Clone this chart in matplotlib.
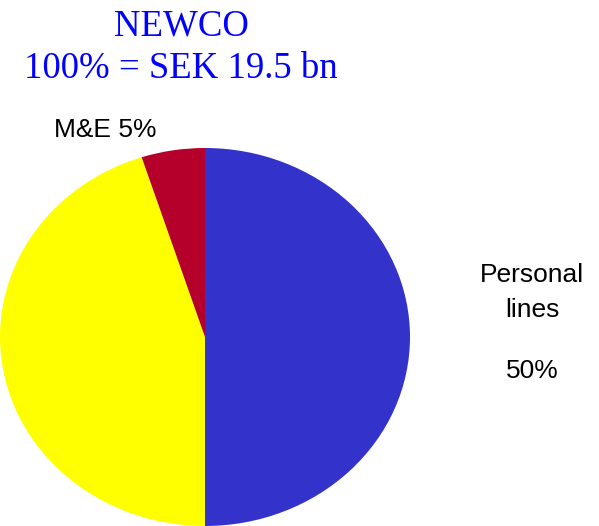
import matplotlib.pyplot as plt

segments = ['Personal lines', 'Commercial', 'M&E']
shares = [50, 45, 5]
colors = ['#3333CC', '#FFFF00', '#B4002A']

W, H = 599, 526
fig = plt.figure(figsize=(W / 100, H / 100), dpi=100)

# pie sits in a box that is wider than tall, so it comes out slightly oval
pie_ax = fig.add_axes([0 / W, 0 / H, 410 / W, 378 / H])
pie_ax.pie(shares, colors=colors, startangle=90, counterclock=False,
           radius=1, wedgeprops=dict(linewidth=0))
pie_ax.set_aspect('auto')
pie_ax.set_xlim(-1, 1)
pie_ax.set_ylim(-1, 1)
pie_ax.axis('off')

# overlay in pixel coordinates for the text
txt = fig.add_axes([0, 0, 1, 1])
txt.set_xlim(0, W)
txt.set_ylim(H, 0)
txt.axis('off')

title_font = dict(family='Liberation Serif', color='#0000FF', fontsize=26.5,
                  ha='center', va='baseline')
txt.text(181, 35, 'NEWCO', **title_font)
txt.text(181, 78, '100% = SEK 19.5 bn', **title_font)

label_font = dict(family='Liberation Sans', color='black', fontsize=19,
                  ha='center', va='baseline')
txt.text(105, 137, f'{segments[2]} {shares[2]}%', **label_font)
txt.text(532, 282, 'Personal', **label_font)
txt.text(532, 317, 'lines', **label_font)
txt.text(532, 378, f'{shares[0]}%', **label_font)

fig.savefig('out.png', dpi=100)
